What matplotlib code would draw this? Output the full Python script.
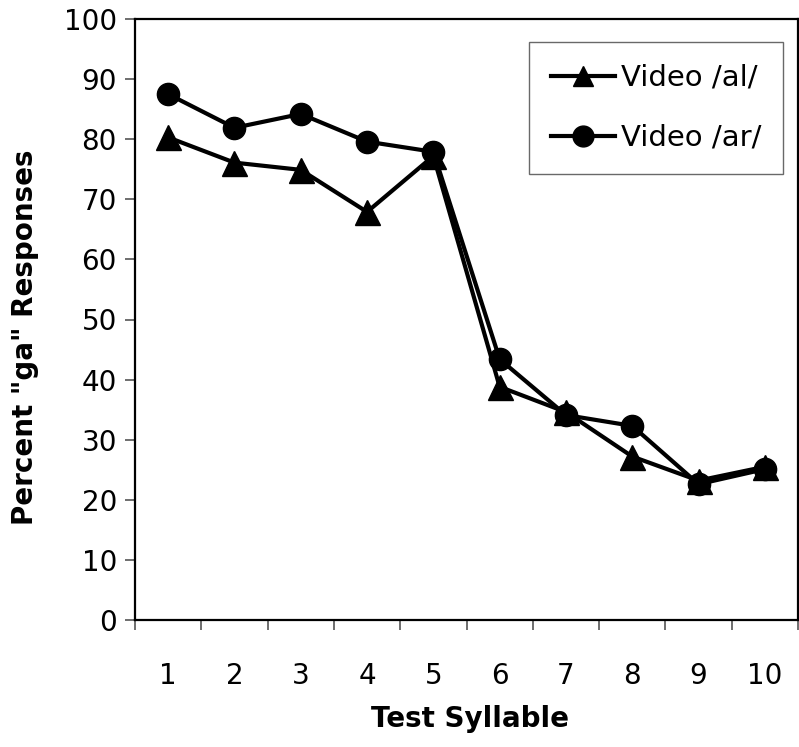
import numpy as np
import matplotlib.pyplot as plt

# Datos
syllables = ['1', '2', '3', '4', '5', '6', '7', '8', '9', '10']
video_al = [80.3, 76.1, 74.9, 67.9, 77.2, 38.8, 34.6, 27.2, 23.2, 25.5]
video_ar = [87.5, 81.9, 84.2, 79.6, 77.9, 43.4, 34.1, 32.3, 22.6, 25.1]

plt.rcParams['font.family'] = ['DejaVu Sans']

fig = plt.figure(figsize=(7.99, 7.47), dpi=100)
ax = fig.add_axes([135 / 799, 1 - 620 / 747, 663 / 799, 601 / 747])

x = np.arange(1, len(syllables) + 1)
ax.plot(x, video_al, color='black', lw=3, marker='^', markersize=18, label='Video /al/')
ax.plot(x, video_ar, color='black', lw=3, marker='o', markersize=16, label='Video /ar/')

ax.set_xlim(0.5, len(syllables) + 0.5)
ax.set_ylim(0, 100)
ax.set_yticks(np.arange(0, 101, 10))
ax.set_xticks(x)
ax.set_xticklabels(syllables)
ax.set_xticks(np.arange(0.5, len(syllables) + 0.6, 1), minor=True)

ax.tick_params(axis='y', direction='out', length=7, width=1.2, color='#555555',
               labelsize=20, pad=6)
ax.tick_params(axis='x', which='major', length=0, labelsize=20, pad=30)
ax.tick_params(axis='x', which='minor', direction='out', length=7, width=1.2,
               color='#555555')
ax.tick_params(axis='y', which='minor', left=False)

for s in ax.spines.values():
    s.set_linewidth(1.6)
    s.set_color('black')

fig.text(25 / 799, 1 - 337 / 747, 'Percent "ga" Responses', rotation=90,
         fontsize=20, fontweight='bold', ha='center', va='center')
fig.text(470 / 799, 1 - 719 / 747, 'Test Syllable', fontsize=20,
         fontweight='bold', ha='center', va='center')

leg = ax.legend(loc='upper right', bbox_to_anchor=(783 / 799, 1 - 42 / 747),
                bbox_transform=fig.transFigure, fontsize=21, frameon=True,
                fancybox=False, edgecolor='#444444', handlelength=2.2,
                handletextpad=0.2, labelspacing=1.1, borderpad=0.75,
                borderaxespad=0)
leg.get_frame().set_linewidth(1.0)
for h in leg.legend_handles:
    h.set_markersize(15)

fig.savefig('out.png', dpi=100)
